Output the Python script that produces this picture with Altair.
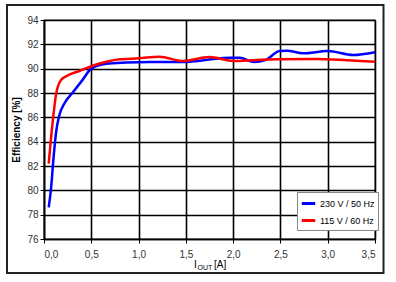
import altair as alt
import pandas as pd

# 230 V / 50 Hz
blue_x = [0.05, 0.075, 0.10, 0.13, 0.16, 0.22, 0.30, 0.41, 0.50, 0.66, 0.87, 1.12, 1.47, 1.65, 1.75, 1.97, 2.07, 2.22, 2.34, 2.49, 2.57, 2.74, 3.00, 3.27, 3.50]
blue_y = [78.6, 80.2, 82.6, 84.9, 86.1, 87.2, 88.0, 89.1, 90.0, 90.4, 90.5, 90.55, 90.55, 90.65, 90.75, 90.9, 90.9, 90.55, 90.7, 91.45, 91.48, 91.26, 91.45, 91.12, 91.35]
# 115 V / 60 Hz
red_x = [0.05, 0.09, 0.13, 0.18, 0.24, 0.38, 0.50, 0.66, 0.80, 1.00, 1.22, 1.47, 1.75, 2.00, 2.25, 2.49, 2.88, 3.20, 3.50]
red_y = [82.2, 85.5, 88.0, 89.07, 89.4, 89.83, 90.2, 90.57, 90.77, 90.85, 90.98, 90.63, 90.95, 90.63, 90.72, 90.77, 90.8, 90.7, 90.57]

series_names = ["230 V / 50 Hz", "115 V / 60 Hz"]
series_colors = ["#0000FF", "#FF0000"]
x_ticks = [0.0, 0.5, 1.0, 1.5, 2.0, 2.5, 3.0, 3.5]
y_ticks = [76, 78, 80, 82, 84, 86, 88, 90, 92, 94]

rows = []
for x, y in zip(blue_x, blue_y):
    rows.append({"I": x, "eff": y, "series": series_names[0]})
for x, y in zip(red_x, red_y):
    rows.append({"I": x, "eff": y, "series": series_names[1]})
df = pd.DataFrame(rows)

FONT = "Liberation Sans"

lines = alt.Chart(df).mark_line(strokeWidth=2.5, interpolate="monotone").encode(
    x=alt.X("I:Q", scale=alt.Scale(domain=[0, 3.5], nice=False),
            axis=alt.Axis(values=x_ticks, format=".1f",
                          labelExpr="replace(datum.label, '.', ',')",
                          title=None, grid=True, gridColor="#000000", gridWidth=1.6,
                          domainColor="#000000", domainWidth=1.6,
                          tickColor="#000000", tickSize=4, labelPadding=6,
                          labelFont=FONT, labelFontSize=10, labelColor="#333333")),
    y=alt.Y("eff:Q", scale=alt.Scale(domain=[76, 94], nice=False),
            axis=alt.Axis(values=y_ticks, title="Efficiency [%]",
                          titleFont=FONT, titleFontSize=10, titleFontWeight="bold",
                          titleColor="#000000", titlePadding=5,
                          grid=True, gridColor="#000000", gridWidth=1.6,
                          domainColor="#000000", domainWidth=1.6,
                          tickColor="#000000", tickSize=4, labelPadding=2,
                          labelFont=FONT, labelFontSize=10, labelColor="#333333")),
    color=alt.Color("series:N",
                    scale=alt.Scale(domain=series_names, range=series_colors),
                    legend=alt.Legend(title=None, orient="none", legendX=253, legendY=172,
                                      symbolType="stroke", symbolSize=180, symbolStrokeWidth=3,
                                      labelFont=FONT, labelFontSize=9, labelColor="#000000",
                                      labelOffset=3, rowPadding=2, padding=3,
                                      fillColor="#FFFFFF", strokeColor="#888888",
                                      cornerRadius=0)),
)

frame = alt.Chart(pd.DataFrame({"a": [0]})).mark_rect(
    fill=None, stroke="#222222", strokeWidth=2
).encode(x=alt.value(-37), x2=alt.value(339.5), y=alt.value(-15), y2=alt.value(253))

title_df = pd.DataFrame({"a": [0]})
t_i = alt.Chart(title_df).mark_text(text="I", font=FONT, fontSize=10, align="left",
                                    baseline="alphabetic", color="#000000").encode(
    x=alt.value(150), y=alt.value(248))
t_out = alt.Chart(title_df).mark_text(text="OUT", font=FONT, fontSize=7, align="left",
                                      baseline="alphabetic", color="#000000").encode(
    x=alt.value(153.5), y=alt.value(249.5))
t_a = alt.Chart(title_df).mark_text(text="[A]", font=FONT, fontSize=10, align="left",
                                    baseline="alphabetic", color="#000000").encode(
    x=alt.value(170), y=alt.value(248))

chart = alt.layer(lines, frame, t_i, t_out, t_a).properties(
    width=331, height=219,
    autosize=alt.AutoSizeParams(type="none"),
    padding={"left": 44, "top": 20, "right": 21, "bottom": 43},
    background="#FFFFFF",
).configure_view(stroke="#888888", strokeWidth=1.5)

chart.save("out.html", embed_options={"renderer": "svg", "actions": False})
